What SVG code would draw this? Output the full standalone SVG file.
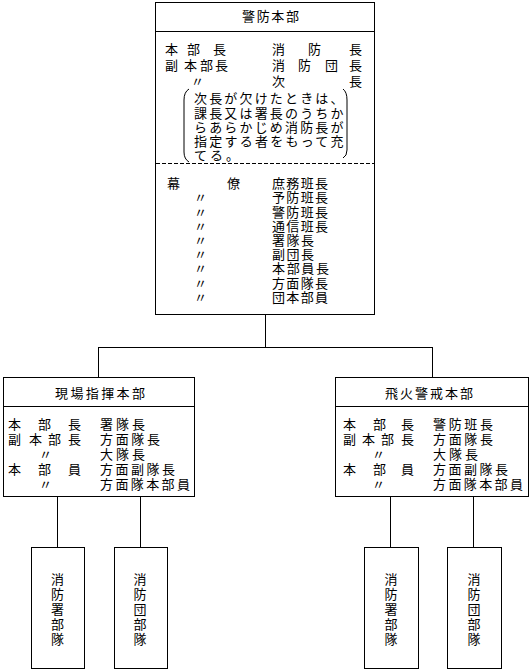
<svg xmlns="http://www.w3.org/2000/svg" width="532" height="671" viewBox="0 0 532 671">
<style>
  text { font-family: "Noto Sans CJK JP", "Noto Sans CJK SC", sans-serif; font-size: 13px; fill: #000; }
  .box { fill: #fff; stroke: #000; stroke-width: 1; }
  .ln { fill: none; stroke: #000; stroke-width: 1; }
  .dash { fill: none; stroke: #000; stroke-width: 1; stroke-dasharray: 4 2; }
  .vt { text-anchor: middle; }
</style>
<rect width="532" height="671" fill="#fff"/>
<g id="connectors">
  <path class="ln" d="M265.5 315 V347.5 M98.5 347.5 H432.5 M98.5 347 V377 M432.5 347 V377"/>
  <path class="ln" d="M57.5 497 V547 M140.5 497 V547 M390.5 497 V547 M473.5 497 V547"/>
</g>
<g id="keibou-honbu">
  <rect class="box" x="155.5" y="2.5" width="219" height="312"/>
  <path class="ln" d="M155.5 31.5 H374.5"/>
  <path class="dash" d="M156 163.5 H374"/>
  <text x="242" y="21" textLength="57" lengthAdjust="spacing">警防本部</text>
  <text x="165" y="54">本</text><text x="187" y="54">部</text><text x="213" y="54">長</text>
  <text x="272" y="54">消</text><text x="308" y="54">防</text><text x="349" y="54">長</text>
  <text x="165" y="70">副</text><text x="184" y="70">本</text><text x="200" y="70">部</text><text x="215" y="70">長</text>
  <text x="272" y="70">消</text><text x="298" y="70">防</text><text x="325" y="70">団</text><text x="349" y="70">長</text>
  <text x="191" y="86">〃</text>
  <text x="272" y="86">次</text><text x="349" y="86">長</text>
  <path class="ln" d="M189 89 Q184 92 184 100 V152 Q184 159 189 162"/>
  <path class="ln" d="M343 89 Q347 92 347 100 V150 Q347 156 343 158"/>
  <text x="194" y="103" textLength="149.5" lengthAdjust="spacing">次長が欠けたときは、</text>
  <text x="194" y="117.5" textLength="149.5" lengthAdjust="spacing">課長又は署長のうちか</text>
  <text x="194" y="132" textLength="149.5" lengthAdjust="spacing">らあらかじめ消防長が</text>
  <text x="194" y="146" textLength="149.5" lengthAdjust="spacing">指定する者をもって充</text>
  <text x="194" y="160" textLength="45" lengthAdjust="spacing">てる。</text>
  <text x="167" y="188">幕</text><text x="227" y="188">僚</text>
  <text x="272" y="188" textLength="56" lengthAdjust="spacing">庶務班長</text>
  <text x="194" y="202">〃</text>
  <text x="272" y="202" textLength="56" lengthAdjust="spacing">予防班長</text>
  <text x="194" y="216.5">〃</text>
  <text x="272" y="216.5" textLength="56" lengthAdjust="spacing">警防班長</text>
  <text x="194" y="230.5">〃</text>
  <text x="272" y="230.5" textLength="56" lengthAdjust="spacing">通信班長</text>
  <text x="194" y="245">〃</text>
  <text x="272" y="245" textLength="42" lengthAdjust="spacing">署隊長</text>
  <text x="194" y="259">〃</text>
  <text x="272" y="259" textLength="42" lengthAdjust="spacing">副団長</text>
  <text x="194" y="273">〃</text>
  <text x="272" y="273" textLength="57" lengthAdjust="spacing">本部員長</text>
  <text x="194" y="287.5">〃</text>
  <text x="272" y="287.5" textLength="56" lengthAdjust="spacing">方面隊長</text>
  <text x="194" y="301.5">〃</text>
  <text x="272" y="301.5" textLength="56" lengthAdjust="spacing">団本部員</text>
</g>
<g id="genba-shiki-honbu">
  <rect class="box" x="3.5" y="377.5" width="191" height="119"/>
  <path class="ln" d="M3.5 406.5 H194.5"/>
  <text x="55" y="398" textLength="90" lengthAdjust="spacing">現場指揮本部</text>
  <text x="8" y="429">本</text><text x="38" y="429">部</text><text x="68" y="429">長</text>
  <text x="100" y="429" textLength="45" lengthAdjust="spacing">署隊長</text>
  <text x="8" y="444">副</text><text x="29" y="444">本</text><text x="48" y="444">部</text><text x="68" y="444">長</text>
  <text x="100" y="444" textLength="60" lengthAdjust="spacing">方面隊長</text>
  <text x="39" y="459">〃</text>
  <text x="100" y="459" textLength="45" lengthAdjust="spacing">大隊長</text>
  <text x="8" y="474">本</text><text x="38" y="474">部</text><text x="68" y="474">員</text>
  <text x="100" y="474" textLength="75" lengthAdjust="spacing">方面副隊長</text>
  <text x="39" y="489">〃</text>
  <text x="100" y="489" textLength="90" lengthAdjust="spacing">方面隊本部員</text>
</g>
<g id="hika-keikai-honbu">
  <rect class="box" x="335.5" y="377.5" width="193" height="119"/>
  <path class="ln" d="M335.5 406.5 H528.5"/>
  <text x="385" y="398" textLength="88" lengthAdjust="spacing">飛火警戒本部</text>
  <text x="343" y="429">本</text><text x="373" y="429">部</text><text x="401" y="429">長</text>
  <text x="433" y="429" textLength="60" lengthAdjust="spacing">警防班長</text>
  <text x="343" y="444">副</text><text x="362" y="444">本</text><text x="381" y="444">部</text><text x="401" y="444">長</text>
  <text x="433" y="444" textLength="60" lengthAdjust="spacing">方面隊長</text>
  <text x="372" y="459">〃</text>
  <text x="433" y="459" textLength="45" lengthAdjust="spacing">大隊長</text>
  <text x="343" y="474">本</text><text x="373" y="474">部</text><text x="401" y="474">員</text>
  <text x="433" y="474" textLength="75" lengthAdjust="spacing">方面副隊長</text>
  <text x="372" y="489">〃</text>
  <text x="433" y="489" textLength="90" lengthAdjust="spacing">方面隊本部員</text>
</g>
<g id="left-shouboushobutai">
  <rect class="box" x="31.5" y="547.5" width="53" height="121"/>
  <text class="vt" x="57.5" y="584">消</text>
  <text class="vt" x="57.5" y="599">防</text>
  <text class="vt" x="57.5" y="614">署</text>
  <text class="vt" x="57.5" y="629">部</text>
  <text class="vt" x="57.5" y="644">隊</text>
</g>
<g id="left-shouboudanbutai">
  <rect class="box" x="114.5" y="547.5" width="53" height="121"/>
  <text class="vt" x="140" y="584">消</text>
  <text class="vt" x="140" y="599">防</text>
  <text class="vt" x="140" y="614">団</text>
  <text class="vt" x="140" y="629">部</text>
  <text class="vt" x="140" y="644">隊</text>
</g>
<g id="right-shouboushobutai">
  <rect class="box" x="364.5" y="547.5" width="54" height="121"/>
  <text class="vt" x="391" y="584">消</text>
  <text class="vt" x="391" y="599">防</text>
  <text class="vt" x="391" y="614">署</text>
  <text class="vt" x="391" y="629">部</text>
  <text class="vt" x="391" y="644">隊</text>
</g>
<g id="right-shouboudanbutai">
  <rect class="box" x="447.5" y="547.5" width="54" height="121"/>
  <text class="vt" x="474" y="584">消</text>
  <text class="vt" x="474" y="599">防</text>
  <text class="vt" x="474" y="614">団</text>
  <text class="vt" x="474" y="629">部</text>
  <text class="vt" x="474" y="644">隊</text>
</g>
</svg>
